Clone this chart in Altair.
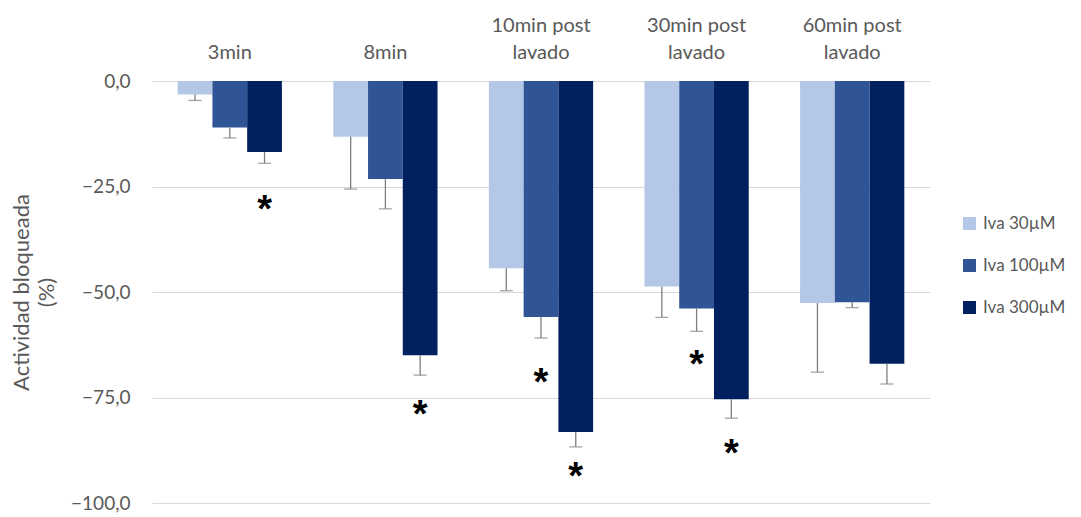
import altair as alt
import pandas as pd

categories = ["3min", "8min", "10min post lavado", "30min post lavado", "60min post lavado"]
series = ["Iva 30µM", "Iva 100µM", "Iva 300µM"]
colors = ["#b4c7e7", "#2f5597", "#002060"]

values_30 = [-3.2, -13.2, -44.4, -48.7, -52.6]
errors_30 = [1.4, 12.4, 5.3, 7.3, 16.4]
values_100 = [-11.0, -23.2, -55.9, -53.9, -52.4]
errors_100 = [2.5, 7.1, 5.0, 5.4, 1.3]
values_300 = [-16.8, -65.0, -83.2, -75.4, -67.0]
errors_300 = [2.7, 4.7, 3.5, 4.5, 4.8]

star_cats = ["3min", "8min", "10min post lavado", "10min post lavado", "30min post lavado", "30min post lavado"]
star_series = ["Iva 300µM", "Iva 300µM", "Iva 100µM", "Iva 300µM", "Iva 100µM", "Iva 300µM"]
star_y = [-28.6, -77.2, -69.7, -92.0, -65.5, -86.6]

rows = []
for s, vals, errs in zip(series, [values_30, values_100, values_300], [errors_30, errors_100, errors_300]):
    for c, v, e in zip(categories, vals, errs):
        rows.append({"cat": c, "serie": s, "value": v, "low": v - e})
df = pd.DataFrame(rows)
stars = pd.DataFrame({"cat": star_cats, "serie": star_series, "y": star_y, "t": ["*"] * len(star_cats)})

font = "Lato"
label_expr = ("indexof(datum.label, ' lavado') > 0 ? "
              "split(replace(datum.label, ' lavado', '|lavado'), '|') : ['', datum.label]")

x_enc = alt.X("cat:N", sort=categories, title=None,
              scale=alt.Scale(paddingInner=0.33, paddingOuter=0.165),
              axis=alt.Axis(orient="top", domain=False, ticks=False, grid=False, labelAngle=0,
                            labelExpr=label_expr, labelFont=font, labelFontSize=20,
                            labelColor="#595959", labelPadding=46, labelLineHeight=27))
xoff = alt.XOffset("serie:N", sort=series, scale=alt.Scale(paddingInner=0, paddingOuter=0))
y_scale = alt.Scale(domain=[-100, 0], nice=False)

bars = alt.Chart(df).mark_bar().encode(
    x=x_enc,
    xOffset=xoff,
    y=alt.Y("value:Q", scale=y_scale,
            title=["Actividad bloqueada", "(%)"],
            axis=alt.Axis(values=[0, -25, -50, -75, -100], domain=False, ticks=False,
                          labelExpr="replace(format(datum.value, '.1f'), '.', ',')",
                          labelFont=font, labelFontSize=19, labelColor="#595959", labelPadding=22,
                          gridColor="#d9d9d9", gridWidth=1.2,
                          titleFont=font, titleFontSize=22, titleFontWeight="normal",
                          titleColor="#595959", titlePadding=12, titleLineHeight=25)),
    y2=alt.Y2(datum=0),
    color=alt.Color("serie:N", sort=series, scale=alt.Scale(domain=series, range=colors),
                    legend=alt.Legend(title=None, orient="none", legendX=809, legendY=134,
                                      symbolType="square", symbolSize=170, symbolStrokeWidth=0,
                                      labelFont=font, labelFontSize=17, labelColor="#595959",
                                      rowPadding=24, labelOffset=5)),
)

rules = alt.Chart(df).mark_rule(color="#7f7f7f", strokeWidth=1.3).encode(
    x=alt.X("cat:N", sort=categories), xOffset=xoff,
    y=alt.Y("value:Q", scale=y_scale), y2="low:Q")

caps = alt.Chart(df).mark_tick(color="#7f7f7f", thickness=1.3, size=13, orient="horizontal").encode(
    x=alt.X("cat:N", sort=categories), xOffset=xoff,
    y=alt.Y("low:Q", scale=y_scale))

star_marks = alt.Chart(stars).mark_text(font="Liberation Sans", fontSize=38, fontWeight="bold",
                                         color="black", baseline="middle", dy=9).encode(
    x=alt.X("cat:N", sort=categories), xOffset=alt.XOffset("serie:N", sort=series),
    y=alt.Y("y:Q", scale=y_scale), text="t:N")

chart = alt.layer(bars, rules, caps, star_marks).properties(
    width=778, height=422,
    background="white",
    autosize=alt.AutoSizeParams(type="none"),
    padding={"left": 144, "top": 73, "right": 143, "bottom": 10},
).configure_view(strokeWidth=0)

chart.save("out.html", embed_options={"renderer": "svg", "actions": False})
